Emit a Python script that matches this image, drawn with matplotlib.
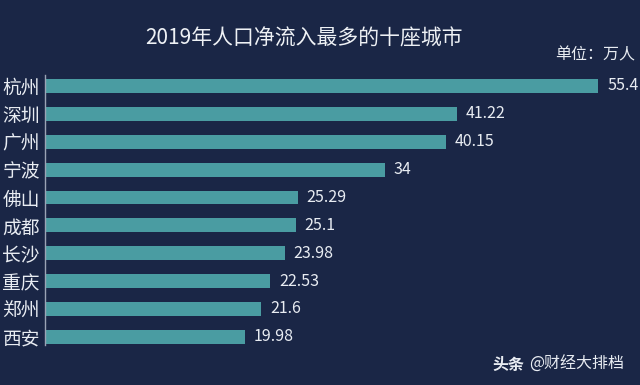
import matplotlib.pyplot as plt

plt.rcParams['font.family'] = ['Noto Sans CJK SC', 'DejaVu Sans']

cities = ["杭州", "深圳", "广州", "宁波", "佛山", "成都", "长沙", "重庆", "郑州", "西安"]
values = [55.4, 41.22, 40.15, 34, 25.29, 25.1, 23.98, 22.53, 21.6, 19.98]
value_labels = ["55.4", "41.22", "40.15", "34", "25.29", "25.1", "23.98", "22.53", "21.6", "19.98"]

bg = "#1a2646"
bar_color = "#4a9ca2"

fig = plt.figure(figsize=(6.4, 3.85), dpi=100)
fig.patch.set_facecolor(bg)
ax = fig.add_axes([0.071, 0.104, 0.929, 0.701])
ax.set_facecolor(bg)

pos = list(range(len(cities)))
ax.barh(pos, values, height=0.5, color=bar_color)

for p, v, lab in zip(pos, values, value_labels):
    ax.text(v + 0.9, p, lab, va="center", ha="left", color="#e8ecf2", fontsize=11.5)

ax.set_xlim(0, 59.6)
ax.set_ylim(9.29, -0.39)
ax.set_yticks(pos)
ax.set_yticklabels(cities, color="#e8ecf2", fontsize=13.5)
ax.tick_params(axis="y", length=0, pad=4)
ax.set_xticks([])
for s in ["top", "right", "bottom"]:
    ax.spines[s].set_visible(False)
ax.spines["left"].set_color("#9aa3b5")
ax.spines["left"].set_linewidth(1.0)

fig.text(0.475, 0.9, "2019年人口净流入最多的十座城市", ha="center", va="center",
         color="#eef1f5", fontsize=15)
fig.text(0.993, 0.857, "单位：万人", ha="right", va="center", color="#e8ecf2", fontsize=11.5)
fig.text(0.77, 0.053, "头条", ha="left", va="center", color="#e8ecf2", fontsize=11.5, fontweight="bold")
fig.text(0.826, 0.053, "@财经大排档", ha="left", va="center", color="#e8ecf2", fontsize=11.5)

fig.savefig("out.png", dpi=100, facecolor=bg)
